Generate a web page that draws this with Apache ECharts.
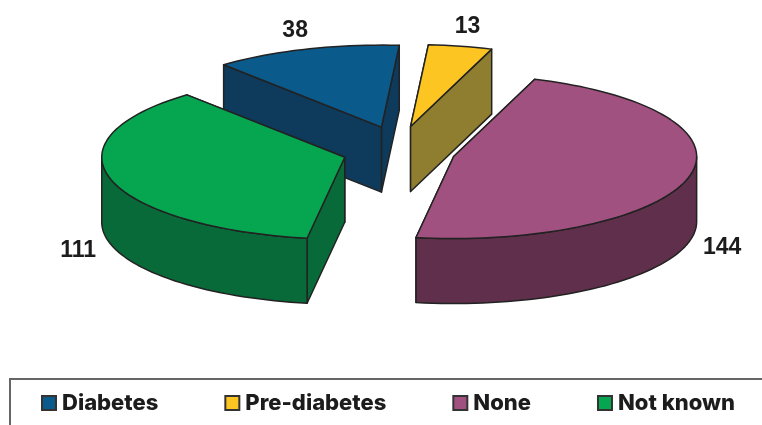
<!DOCTYPE html>
<html>
<head>
<meta charset="utf-8">
<style>html,body{margin:0;padding:0;background:#fff}#chart{width:762px;height:425px}</style>
<script src="https://cdn.jsdelivr.net/npm/echarts@6/dist/echarts.min.js"></script>
</head>
<body>
<div id="chart"></div>
<script>
// Patient counts per glycaemic status
const categories = ['Diabetes', 'Pre-diabetes', 'None', 'Not known'];
const values = [38, 13, 144, 111];
const topColors = ['#0a5a8c', '#fdc521', '#a1517f', '#06a651'];
const wallColors = ['#0e3a5c', '#8f7d30', '#5f2f4c', '#086a38'];

// Projection of the tilted pie
const pie = {
  cx: 399, cy: 150.5, rx: 243, ry: 82, depth: 65,
  startAngle: -40.5, explodeX: 0.232, explodeY: 0.3
};
const outline = '#222222';
const total = values.reduce((a, b) => a + b, 0);
const rad = d => d * Math.PI / 180;
const toAngle = v => echarts.number.linearMap(v, [0, total], [pie.startAngle, pie.startAngle + 360]);

function renderSlice(index) {
  const before = values.slice(0, index).reduce((a, b) => a + b, 0);
  const a0 = toAngle(before);
  const a1 = toAngle(before + values[index]);
  const mid = (a0 + a1) / 2;
  const ox = pie.cx + pie.explodeX * pie.rx * Math.sin(rad(mid));
  const oy = pie.cy - pie.explodeY * pie.ry * Math.cos(rad(mid));
  const rim = a => [ox + pie.rx * Math.sin(rad(a)), oy - pie.ry * Math.cos(rad(a))];
  const drop = p => [p[0], p[1] + pie.depth];
  const arc = (from, to) => {
    const n = Math.max(2, Math.ceil(Math.abs(to - from) / 2));
    const pts = [];
    for (let i = 0; i <= n; i++) pts.push(rim(from + (to - from) * i / n));
    return pts;
  };
  const poly = (points, fill) => ({
    type: 'polygon',
    shape: { points },
    style: { fill, stroke: outline, lineWidth: 1.5, lineJoin: 'round' }
  });
  const apex = [ox, oy];
  const children = [];
  // Cut faces back to front, then the visible part of the rim, then the top face
  [a0, a1]
    .sort((p, q) => rim(p)[1] - rim(q)[1])
    .forEach(a => {
      const p = rim(a);
      children.push(poly([apex, p, drop(p), drop(apex)], wallColors[index]));
    });
  const lo = Math.max(a0, 90), hi = Math.min(a1, 270);
  if (hi > lo) {
    const front = arc(lo, hi);
    children.push(poly(front.concat(front.map(drop).reverse()), wallColors[index]));
  }
  children.push(poly([apex].concat(arc(a0, a1)), topColors[index]));
  // Value label just outside the rim, below it for slices facing the viewer
  const isFront = Math.cos(rad(mid)) < 0;
  children.push({
    type: 'text',
    x: ox + 1.14 * pie.rx * Math.sin(rad(mid)),
    y: oy - 1.25 * pie.ry * Math.cos(rad(mid)) + (isFront ? pie.depth : 0) + 1,
    style: {
      text: String(values[index]),
      fill: '#1c1c1c',
      fontFamily: '"Liberation Sans", Arial, sans-serif',
      fontWeight: 'bold',
      fontSize: 23,
      align: 'center',
      verticalAlign: 'middle'
    }
  });
  return { type: 'group', children };
}

const chart = echarts.init(document.getElementById('chart'), null, { renderer: 'canvas' });
chart.setOption({
  animation: false,
  backgroundColor: '#ffffff',
  graphic: [{
    type: 'rect',
    shape: { x: 10, y: 379, width: 800, height: 100 },
    style: { fill: 'none', stroke: '#666666', lineWidth: 2 },
    silent: true
  }],
  legend: {
    data: categories,
    left: 33,
    top: 392,
    padding: [0, 0, 0, 8],
    itemWidth: 14,
    itemHeight: 14,
    itemGap: 66,
    icon: 'rect',
    textStyle: {
      color: '#1c1c1c',
      fontFamily: 'Inter, sans-serif',
      fontWeight: 800,
      fontSize: 22,
      padding: [0, 0, 0, 1]
    }
  },
  series: categories.map((name, i) => ({
    type: 'custom',
    name,
    coordinateSystem: 'none',
    silent: true,
    itemStyle: { color: topColors[i], borderColor: '#333333', borderWidth: 1 },
    data: [values[i]],
    renderItem: () => renderSlice(i)
  }))
});
</script>
</body>
</html>
